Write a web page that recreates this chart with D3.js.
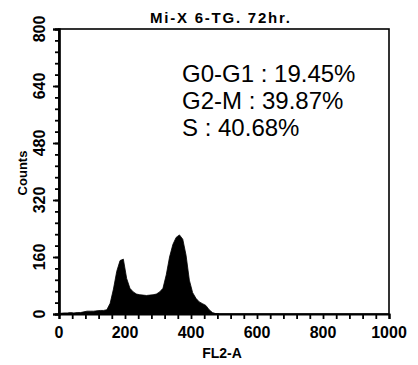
<!DOCTYPE html>
<html>
<head>
<meta charset="utf-8">
<script src="https://cdn.jsdelivr.net/npm/d3@7"></script>
<style>
  html, body { margin: 0; padding: 0; background: #fff; }
  svg text { font-family: "Liberation Sans", Arial, Helvetica, sans-serif; fill: #000; }
</style>
</head>
<body>
<svg id="chart" width="418" height="365"></svg>
<script>
// FL2-A channel (centre of each 10-channel bin) and event counts
const channels = [5, 15, 25, 35, 45, 55, 65, 75, 85, 95,
  105, 115, 125, 135, 145, 155, 165, 175, 185, 195,
  205, 215, 225, 235, 245, 255, 265, 275, 285, 295,
  305, 315, 325, 335, 345, 355, 365, 375, 385, 395,
  405, 415, 425, 435, 445, 455, 465, 475, 485];
const counts = [2, 3, 3, 4, 3, 4, 4, 6, 8, 8,
  8, 9, 10, 10, 12, 30, 70, 120, 150, 154,
  100, 72, 62, 56, 54, 53, 52, 53, 54, 56,
  62, 72, 110, 160, 195, 215, 222, 210, 165, 95,
  60, 44, 34, 29, 24, 12, 4, 1, 0];

const xMajor = [0, 200, 400, 600, 800, 1000];
const yMajor = [0, 160, 320, 480, 640, 800];
const phaseLabels = ["G0-G1 : 19.45%", "G2-M : 39.87%", "S : 40.68%"];
const title = "Mi-X  6-TG. 72hr.";
const xTitle = "FL2-A";
const yTitle = "Counts";

const svg = d3.select("#chart");
const x = d3.scaleLinear().domain([0, 1000]).range([59, 389]);
const y = d3.scaleLinear().domain([0, 800]).range([314, 29]);

// histogram fill
const data = channels.map((c, i) => ({ c, n: counts[i] }));
const area = d3.area()
  .curve(d3.curveLinear)
  .x(d => x(d.c))
  .y0(y(0))
  .y1(d => y(d.n));
svg.append("path").datum(data).attr("d", area)
  .attr("fill", "#000").attr("stroke", "#000").attr("stroke-width", 0.8)
  .attr("stroke-linejoin", "miter");

// frame: top and right borders
svg.append("rect")
  .attr("x", x(0)).attr("y", y(800))
  .attr("width", x(1000) - x(0)).attr("height", y(0) - y(800))
  .attr("fill", "none").attr("stroke", "#000").attr("stroke-width", 1.6);

// y axis: minor ticks every 32, major every 160
const yMinor = d3.range(0, 801, 32);
const yAxisMinor = svg.append("g").attr("transform", `translate(${x(0)},0)`)
  .call(d3.axisLeft(y).tickValues(yMinor).tickSize(4).tickFormat(""));
const yAxisMajor = svg.append("g").attr("transform", `translate(${x(0)},0)`)
  .call(d3.axisLeft(y).tickValues(yMajor).tickSize(6).tickFormat(""));
[yAxisMinor, yAxisMajor].forEach(g => {
  g.select(".domain").attr("stroke-width", 2.2);
  g.selectAll(".tick line").attr("stroke-width", 1.8);
});

// x axis: minor ticks every 40
const xTicks = d3.range(0, 1001, 40);
const xAxis = svg.append("g").attr("transform", `translate(0,${y(0)})`)
  .call(d3.axisBottom(x).tickValues(xTicks).tickSize(5).tickFormat(""));
xAxis.select(".domain").attr("stroke-width", 2.2);
xAxis.selectAll(".tick line").attr("stroke-width", 1.8);

// tick labels
svg.append("g").selectAll("text").data(xMajor).join("text")
  .attr("x", d => x(d)).attr("y", 338)
  .attr("text-anchor", "middle")
  .attr("font-size", 16).attr("font-weight", "bold")
  .text(d => d);

svg.append("g").selectAll("text").data(yMajor).join("text")
  .attr("transform", d => `translate(45,${y(d)}) rotate(-90)`)
  .attr("text-anchor", "middle")
  .attr("font-size", 16).attr("font-weight", "bold")
  .text(d => d);

// axis titles
svg.append("text").attr("x", 222).attr("y", 358)
  .attr("text-anchor", "middle").attr("font-size", 14).attr("font-weight", "bold")
  .text(xTitle);
svg.append("text").attr("transform", "translate(27,173) rotate(-90)")
  .attr("text-anchor", "middle").attr("font-size", 13).attr("font-weight", "bold")
  .text(yTitle);

// chart title
svg.append("text").attr("x", 220).attr("y", 23)
  .attr("text-anchor", "middle").attr("font-size", 15).attr("font-weight", "bold")
  .attr("textLength", 140).attr("lengthAdjust", "spacing")
  .text(title);

// cell-cycle phase percentages
svg.append("g").selectAll("text").data(phaseLabels).join("text")
  .attr("x", 182).attr("y", (d, i) => 82 + i * 27)
  .attr("font-size", 24)
  .text(d => d);
</script>
</body>
</html>
